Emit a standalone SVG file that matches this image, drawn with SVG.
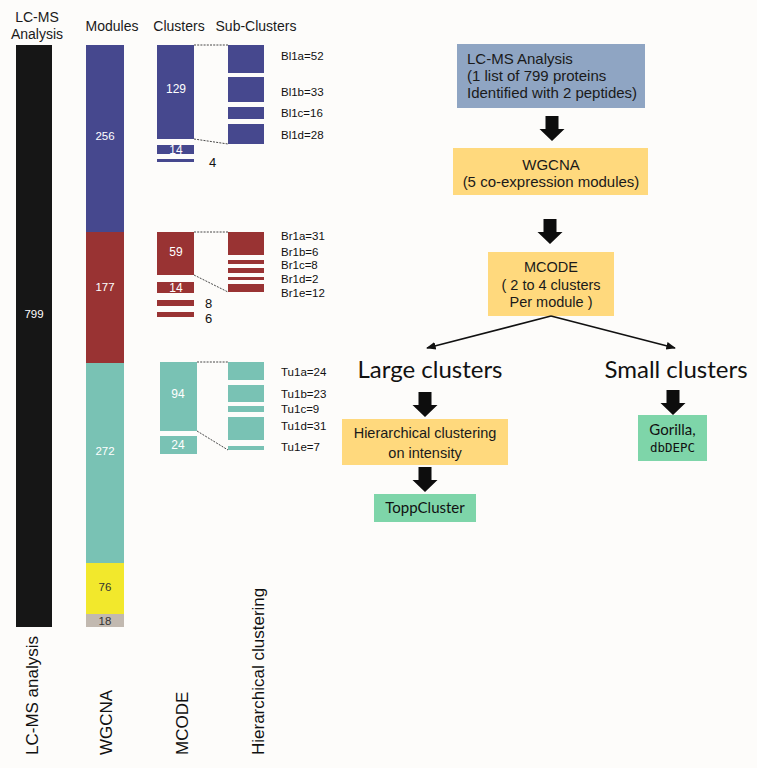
<svg xmlns="http://www.w3.org/2000/svg" xmlns:xlink="http://www.w3.org/1999/xlink" width="757" height="768" viewBox="0 0 757 768">
<style>
.ar{font-family:"Liberation Sans",Arial,sans-serif}
.hd{font-size:14px;fill:#1a1a1a;text-anchor:middle}
.num{font-size:11.5px;fill:#ffffff;text-anchor:middle}
.numd{font-size:11.5px;fill:#333333;text-anchor:middle}
.lab{font-size:11.5px;fill:#111111}
.out{font-size:13px;fill:#111111}
.rot{font-size:17px;fill:#111111}
.fc{font-size:15px;fill:#1a1a1a}
.cal{font-family:Lato,"Noto Sans",sans-serif;fill:#111111}
.blue{fill:#46488E}.red{fill:#993333}.teal{fill:#79C2B4}.yel{fill:#F2E82C}.gry{fill:#C2B9B0}
.dash{stroke:#333333;stroke-width:0.9;stroke-dasharray:2,1.2;fill:none}
.thin{stroke:#111111;stroke-width:1.6;fill:none;marker-end:url(#tip)}
</style>
<defs>
<marker id="tip" viewBox="0 0 10 10" refX="9" refY="5" markerWidth="6" markerHeight="6" orient="auto" markerUnits="strokeWidth">
<path d="M0,1 L10,5 L0,9 Z" fill="#111111"/>
</marker>
<path id="blk" d="M-6.5,0 H6.5 V13 H12.5 L0,25 L-12.5,13 H-6.5 Z" fill="#0d0d0d"/>
</defs>
<rect x="0" y="0" width="757" height="768" fill="#FDFCFA"/>

<g id="headers" class="ar">
<text class="hd" x="37" y="22">LC-MS</text>
<text class="hd" x="37" y="39">Analysis</text>
<text class="hd" x="112" y="31">Modules</text>
<text class="hd" x="179" y="31">Clusters</text>
<text class="hd" x="256" y="31">Sub-Clusters</text>
</g>

<g id="lcms-bar" class="ar">
<rect x="16" y="45" width="36" height="582" fill="#161616"/>
<text class="num" x="34" y="318">799</text>
</g>

<g id="modules" class="ar">
<rect class="blue" x="86" y="45" width="38" height="187"/>
<rect class="red" x="86" y="232" width="38" height="131"/>
<rect class="teal" x="86" y="363" width="38" height="200"/>
<rect class="yel" x="86" y="563" width="38" height="51"/>
<rect class="gry" x="86" y="614" width="38" height="13"/>
<text class="num" x="105" y="140">256</text>
<text class="num" x="105" y="291">177</text>
<text class="num" x="105" y="455">272</text>
<text class="numd" x="105" y="591">76</text>
<text class="numd" x="105" y="625">18</text>
</g>

<g id="clusters-blue" class="ar">
<rect class="blue" x="157" y="45" width="37" height="94"/>
<rect class="blue" x="157" y="145" width="37" height="9"/>
<rect class="blue" x="157" y="159" width="37" height="3"/>
<text class="num" x="176" y="93" style="font-size:12px">129</text>
<text class="num" x="176" y="154" style="font-size:12px">14</text>
<text class="out" x="209" y="167">4</text>
</g>
<g id="subclusters-blue" class="ar">
<rect class="blue" x="228" y="45" width="36" height="28"/>
<rect class="blue" x="228" y="77" width="36" height="25"/>
<rect class="blue" x="228" y="107" width="36" height="12"/>
<rect class="blue" x="228" y="124" width="36" height="20"/>
<text class="lab" x="281" y="60">Bl1a=52</text>
<text class="lab" x="281" y="96">Bl1b=33</text>
<text class="lab" x="281" y="117">Bl1c=16</text>
<text class="lab" x="281" y="139">Bl1d=28</text>
</g>

<g id="clusters-red" class="ar">
<rect class="red" x="157" y="232" width="37" height="43"/>
<rect class="red" x="157" y="282" width="37" height="11"/>
<rect class="red" x="157" y="300" width="37" height="6"/>
<rect class="red" x="157" y="312" width="37" height="5"/>
<text class="num" x="176" y="256" style="font-size:12px">59</text>
<text class="num" x="176" y="292" style="font-size:12px">14</text>
<text class="out" x="205" y="308">8</text>
<text class="out" x="205" y="323">6</text>
</g>
<g id="subclusters-red" class="ar">
<rect class="red" x="228" y="232" width="36" height="23"/>
<rect class="red" x="228" y="260" width="36" height="4"/>
<rect class="red" x="228" y="268" width="36" height="5"/>
<rect class="red" x="228" y="277" width="36" height="3"/>
<rect class="red" x="228" y="284" width="36" height="8"/>
<text class="lab" x="281" y="240">Br1a=31</text>
<text class="lab" x="281" y="256">Br1b=6</text>
<text class="lab" x="281" y="269">Br1c=8</text>
<text class="lab" x="281" y="283">Br1d=2</text>
<text class="lab" x="281" y="297">Br1e=12</text>
</g>

<g id="clusters-teal" class="ar">
<rect class="teal" x="160" y="362" width="37" height="69"/>
<rect class="teal" x="160" y="436" width="37" height="18"/>
<text class="num" x="178" y="398" style="font-size:12px">94</text>
<text class="num" x="178" y="449" style="font-size:12px">24</text>
</g>
<g id="subclusters-teal" class="ar">
<rect class="teal" x="228" y="362" width="36" height="18"/>
<rect class="teal" x="228" y="385" width="36" height="17"/>
<rect class="teal" x="228" y="406" width="36" height="6"/>
<rect class="teal" x="228" y="417" width="36" height="23"/>
<rect class="teal" x="228" y="446" width="36" height="4"/>
<text class="lab" x="281" y="376">Tu1a=24</text>
<text class="lab" x="281" y="398">Tu1b=23</text>
<text class="lab" x="281" y="413">Tu1c=9</text>
<text class="lab" x="281" y="430">Tu1d=31</text>
<text class="lab" x="281" y="451">Tu1e=7</text>
</g>

<g id="bottom-labels" class="ar">
<text class="rot" transform="translate(37.5,755) rotate(-90)">LC-MS analysis</text>
<text class="rot" transform="translate(112,755) rotate(-90)">WGCNA</text>
<text class="rot" transform="translate(188,755) rotate(-90)">MCODE</text>
<text class="rot" transform="translate(263.5,755) rotate(-90)">Hierarchical clustering</text>
</g>

<g id="node-lcms" class="ar">
<rect x="457" y="44" width="188" height="64" fill="#8FA5C3"/>
<text class="fc" x="467" y="64">LC-MS Analysis</text>
<text class="fc" x="467" y="81">(1 list of 799 proteins</text>
<text class="fc" x="467" y="98">Identified with 2 peptides)</text>
</g>
<g id="node-wgcna" class="ar">
<rect x="453" y="148" width="195" height="47" fill="#FFD97D"/>
<text class="fc" x="551" y="170" text-anchor="middle">WGCNA</text>
<text class="fc" x="551" y="187" text-anchor="middle">(5 co-expression modules)</text>
</g>
<g id="node-mcode" class="ar">
<rect x="488" y="252" width="126" height="64" fill="#FFD97D"/>
<text class="fc" x="551" y="272" text-anchor="middle" style="font-size:14.5px">MCODE</text>
<text class="fc" x="551" y="290" text-anchor="middle" style="font-size:14.5px">( 2 to 4 clusters</text>
<text class="fc" x="551" y="307" text-anchor="middle" style="font-size:14.5px">Per module )</text>
</g>
<g id="node-large" class="cal">
<text x="430" y="378" text-anchor="middle" font-size="24">Large clusters</text>
</g>
<g id="node-small" class="cal">
<text x="676" y="378" text-anchor="middle" font-size="24">Small clusters</text>
</g>
<g id="node-hier" class="ar">
<rect x="342" y="419" width="166" height="46" fill="#FFD97D"/>
<text class="fc" x="425" y="438" text-anchor="middle" style="font-size:14.5px">Hierarchical clustering</text>
<text class="fc" x="425" y="458" text-anchor="middle" style="font-size:14.5px">on intensity</text>
</g>
<g id="node-topp" class="cal">
<rect x="374" y="494" width="102" height="28" fill="#7ED5A9"/>
<text x="425" y="513" text-anchor="middle" font-size="15">ToppCluster</text>
</g>
<g id="node-gorilla" class="cal">
<rect x="638" y="415" width="69" height="46" fill="#7ED5A9"/>
<text x="672.5" y="435" text-anchor="middle" font-size="15">Gorilla,</text>
<text x="672.5" y="452" text-anchor="middle" font-size="12.5" font-family="'DejaVu Sans Mono','Liberation Mono',monospace">dbDEPC</text>
</g>

<g id="connectors">
<line class="dash" x1="194" y1="45" x2="228" y2="45"/>
<line class="dash" x1="194" y1="139" x2="228" y2="144"/>
<line class="dash" x1="194" y1="232" x2="228" y2="232"/>
<line class="dash" x1="194" y1="275" x2="228" y2="292"/>
<line class="dash" x1="197" y1="362" x2="228" y2="362"/>
<line class="dash" x1="197" y1="431" x2="228" y2="450"/>
<use xlink:href="#blk" href="#blk" x="552" y="116"/>
<use xlink:href="#blk" href="#blk" x="550" y="219"/>
<use xlink:href="#blk" href="#blk" x="425" y="392"/>
<use xlink:href="#blk" href="#blk" x="425" y="467"/>
<use xlink:href="#blk" href="#blk" x="673" y="390"/>
<line class="thin" x1="551" y1="316" x2="427" y2="348"/>
<line class="thin" x1="551" y1="316" x2="675" y2="348"/>
</g>
</svg>
